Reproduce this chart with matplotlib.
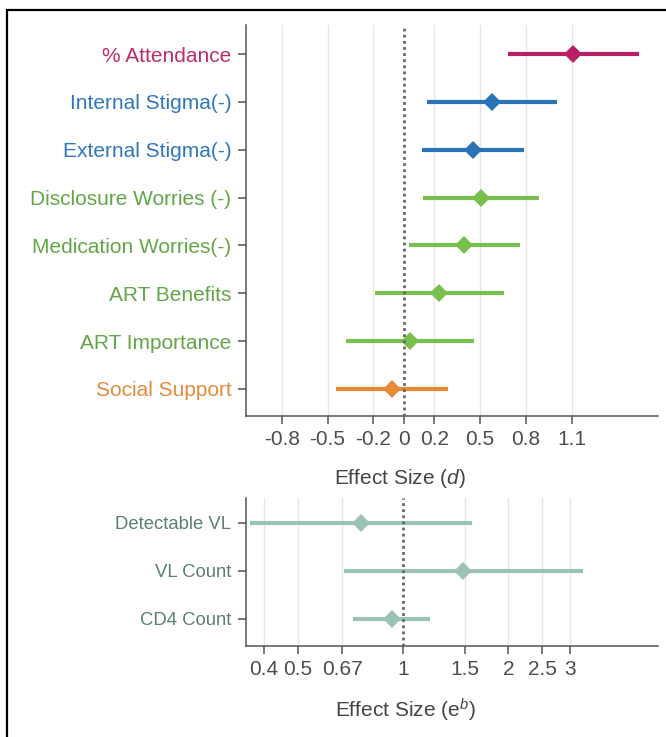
import numpy as np
import matplotlib
matplotlib.use("Agg")
import matplotlib.pyplot as plt
from matplotlib.patches import Rectangle

plt.rcParams['font.family'] = ['Liberation Sans', 'DejaVu Sans']
plt.rcParams['mathtext.fontset'] = 'custom'
plt.rcParams['mathtext.rm'] = 'Liberation Sans'
plt.rcParams['mathtext.it'] = 'Liberation Sans:italic'

# ---- top panel data (Cohen's d) ----
top_labels = ["% Attendance", "Internal Stigma(-)", "External Stigma(-)",
              "Disclosure Worries (-)", "Medication Worries(-)", "ART Benefits",
              "ART Importance", "Social Support"]
top_est = [1.11, 0.58, 0.453, 0.506, 0.396, 0.234, 0.039, -0.075]
top_lo = [0.68, 0.155, 0.122, 0.127, 0.035, -0.19, -0.381, -0.444]
top_hi = [1.543, 1.002, 0.788, 0.888, 0.759, 0.657, 0.46, 0.291]
top_colors = ["#b81f66", "#2b73b9", "#2b73b9", "#78bf4f", "#78bf4f",
              "#78bf4f", "#78bf4f", "#e68a35"]
top_label_colors = ["#be2c6c", "#2f77bd", "#2f77bd", "#63a646", "#63a646",
                    "#63a646", "#63a646", "#e58b3c"]
top_ticks = [-0.8, -0.5, -0.2, 0, 0.2, 0.5, 0.8, 1.1]
top_ticklabels = ["-0.8", "-0.5", "-0.2", "0", "0.2", "0.5", "0.8", "1.1"]

# ---- bottom panel data (exp(b)) ----
bot_labels = ["Detectable VL", "VL Count", "CD4 Count"]
bot_est = [0.759, 1.484, 0.926]
bot_lo = [0.365, 0.677, 0.718]
bot_hi = [1.578, 3.26, 1.197]
bot_color = "#9cc2b5"
bot_label_color = "#5b7e75"
bot_ticks = [0.4, 0.5, 0.67, 1, 1.5, 2, 2.5, 3]
bot_ticklabels = ["0.4", "0.5", "0.67", "1", "1.5", "2", "2.5", "3"]

W, H = 666, 737
fig = plt.figure(figsize=(W / 100, H / 100), dpi=100)

ax1 = fig.add_axes([245.7 / W, 1 - 415.7 / H, (658 - 245.7) / W, (415.7 - 25) / H])
ax2 = fig.add_axes([245.7 / W, 1 - 645.7 / H, (658 - 245.7) / W, (645.7 - 498) / H])

spine_c = "#555555"
tick_c = "#4d4d4d"
grid_c = "#e6e6e6"


def style(ax):
    for s in ["top", "right"]:
        ax.spines[s].set_visible(False)
    for s in ["left", "bottom"]:
        ax.spines[s].set_color(spine_c)
        ax.spines[s].set_linewidth(1.1)
    ax.tick_params(axis="both", length=5.8, width=1.1, color=spine_c,
                   labelcolor=tick_c, labelsize=15, pad=4.5)
    ax.set_facecolor("white")


# top panel
ypos = np.arange(1, len(top_labels) + 1)
for i in range(len(top_labels)):
    ax1.plot([top_lo[i], top_hi[i]], [ypos[i], ypos[i]], color=top_colors[i],
             lw=3, solid_capstyle="butt", zorder=3)
    ax1.plot([top_est[i]], [ypos[i]], marker="D", ms=9, mew=0,
             color=top_colors[i], zorder=4)
for t in top_ticks:
    if t != 0:
        ax1.axvline(t, color=grid_c, lw=1, zorder=1)
ax1.axvline(0, color="#666666", lw=2.0, ls=(0, (1, 1.2)), zorder=5)
ax1.set_xlim(-1.037, 1.667)
ax1.set_ylim(8.558, 0.394)
ax1.set_xticks(top_ticks)
ax1.set_xticklabels(top_ticklabels)
ax1.set_yticks(ypos)
ax1.set_yticklabels(top_labels)
style(ax1)
for lab, c in zip(ax1.get_yticklabels(), top_label_colors):
    lab.set_color(c)
ax1.set_xlabel("Effect Size ($d$)", fontsize=15, color="#444444")
ax1.xaxis.set_label_coords((400 - 245.7) / (658 - 245.7), -(478 - 415.7) / (415.7 - 25))
ax1.xaxis.label.set_va("center")

# bottom panel
ypos2 = np.arange(1, len(bot_labels) + 1)
for i in range(len(bot_labels)):
    ax2.plot([bot_lo[i], bot_hi[i]], [ypos2[i], ypos2[i]], color=bot_color,
             lw=3, solid_capstyle="butt", zorder=3)
    ax2.plot([bot_est[i]], [ypos2[i]], marker="D", ms=9, mew=0,
             color=bot_color, zorder=4)
ax2.set_xscale("log")
for t in bot_ticks:
    if t != 1:
        ax2.axvline(t, color=grid_c, lw=1, zorder=1)
ax2.axvline(1, color="#666666", lw=2.0, ls=(0, (1, 1.2)), zorder=5)
ax2.set_xlim(np.exp(-1.037), np.exp(1.678))
ax2.set_ylim(3.56, 0.49)
ax2.set_xticks(bot_ticks)
ax2.set_xticklabels(bot_ticklabels)
ax2.xaxis.set_minor_locator(matplotlib.ticker.NullLocator())
ax2.set_yticks(ypos2)
ax2.set_yticklabels(bot_labels)
style(ax2)
ax2.tick_params(axis="y", labelsize=13.3, labelcolor=bot_label_color)
ax2.set_xlabel(r"Effect Size ($\mathrm{e}^{b}$)", fontsize=15, color="#444444")
ax2.xaxis.set_label_coords((405 - 245.7) / (658 - 245.7), -(710 - 645.7) / (645.7 - 498))
ax2.xaxis.label.set_va("center")

# outer border (cropped frame)
fig.patches.append(Rectangle((6.8 / W, -0.05), 1.2, (H - 9.5) / H + 0.05,
                             transform=fig.transFigure, fill=False,
                             edgecolor="black", lw=1.6, zorder=10))

fig.savefig("out.png", dpi=100, facecolor="white")
